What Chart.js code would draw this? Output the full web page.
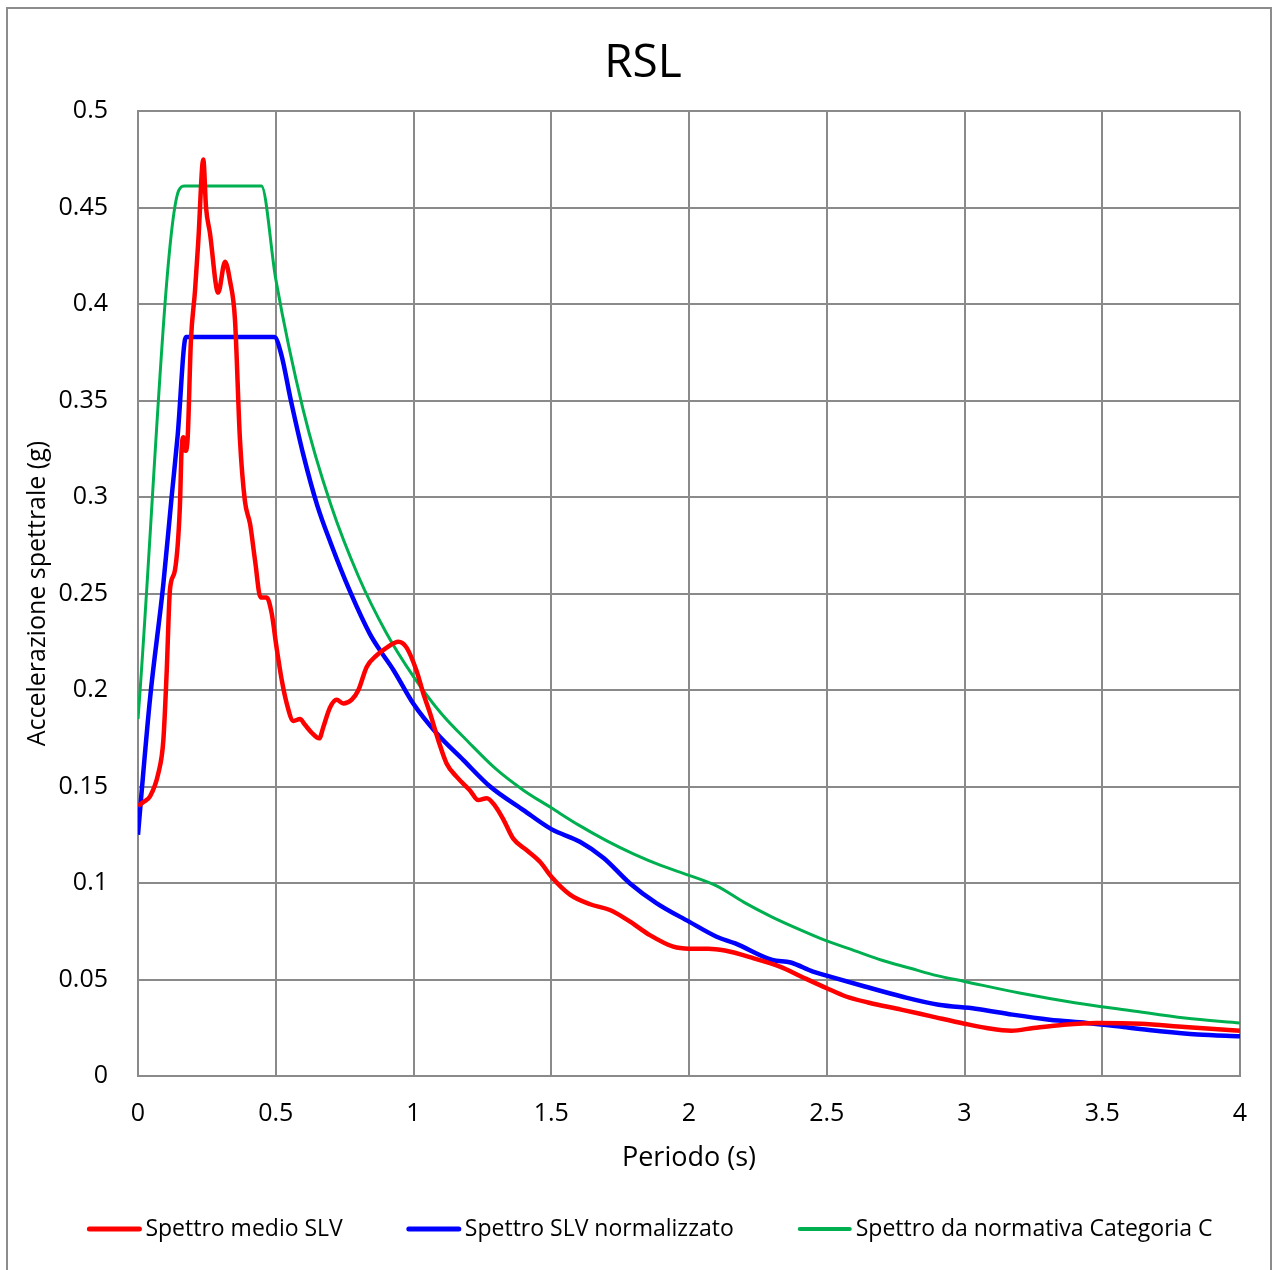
<!DOCTYPE html>
<html>
<head>
<meta charset="utf-8">
<script src="https://cdn.jsdelivr.net/npm/chart.js@4"></script>
<style>
  html, body { margin: 0; padding: 0; background: #fff; }
  canvas { display: block; }
</style>
</head>
<body>
<canvas id="rslChart" width="1273" height="1270"></canvas>
<script>
// Spettro medio SLV (periodo in s, accelerazione in g)
const medioT = [0, 0.02, 0.044, 0.074, 0.092, 0.104, 0.116, 0.134, 0.152, 0.158, 0.165, 0.172, 0.18, 0.192,
  0.207, 0.219, 0.237, 0.247, 0.261, 0.291, 0.316, 0.334, 0.352, 0.37, 0.388, 0.407, 0.425, 0.445, 0.467,
  0.485, 0.503, 0.522, 0.54, 0.564, 0.588, 0.606, 0.63, 0.658, 0.673, 0.697, 0.721, 0.745, 0.776, 0.8,
  0.83, 0.866, 0.903, 0.945, 0.975, 1.011, 1.036, 1.06, 1.09, 1.12, 1.157, 1.205, 1.235, 1.266, 1.296,
  1.326, 1.362, 1.411, 1.459, 1.502, 1.568, 1.641, 1.713, 1.786, 1.858, 1.943, 2.0, 2.07, 2.13, 2.235,
  2.33, 2.42, 2.5, 2.57, 2.65, 2.77, 2.88, 3.0, 3.08, 3.17, 3.25, 3.36, 3.48, 3.64, 3.8, 4.0]
const medioSa = [0.14, 0.142, 0.145, 0.157, 0.174, 0.209, 0.252, 0.262, 0.295, 0.324, 0.331, 0.324, 0.33, 0.381,
  0.407, 0.433, 0.475, 0.45, 0.437, 0.406, 0.422, 0.412, 0.392, 0.33, 0.298, 0.286, 0.267, 0.248, 0.248,
  0.24, 0.222, 0.205, 0.193, 0.184, 0.185, 0.182, 0.178, 0.175, 0.181, 0.191, 0.195, 0.193, 0.195, 0.2,
  0.212, 0.218, 0.222, 0.225, 0.222, 0.21, 0.198, 0.188, 0.174, 0.162, 0.155, 0.148, 0.143, 0.144, 0.14,
  0.133, 0.123, 0.117, 0.111, 0.103, 0.094, 0.089, 0.086, 0.08, 0.073, 0.067, 0.066, 0.066, 0.065, 0.061,
  0.0567, 0.0507, 0.0455, 0.0412, 0.0381, 0.0344, 0.0309, 0.0271, 0.0249, 0.0235, 0.0249, 0.0266, 0.0275, 0.0271, 0.0254, 0.0235]

// Spettro SLV normalizzato
const normT = [0, 0.01, 0.044, 0.092, 0.122, 0.144, 0.174, 0.495, 0.52, 0.555, 0.6, 0.65, 0.7, 0.77,
  0.842, 0.878, 0.927, 0.999, 1.084, 1.181, 1.278, 1.399, 1.502, 1.604, 1.69, 1.786, 1.883, 2.0, 2.1,
  2.168, 2.302, 2.369, 2.45, 2.503, 2.638, 2.772, 2.906, 3.04, 3.174, 3.309, 3.443, 3.577, 3.711, 3.846, 4.0]
const normSa = [0.125, 0.142, 0.196, 0.255, 0.3, 0.332, 0.383, 0.383, 0.374, 0.35, 0.322, 0.296, 0.276, 0.251,
  0.229, 0.2207, 0.2104, 0.193, 0.1776, 0.1637, 0.15, 0.1378, 0.1278, 0.1214, 0.113, 0.0998, 0.0895, 0.08, 0.0722,
  0.0687, 0.0601, 0.0588, 0.0541, 0.0519, 0.0464, 0.0412, 0.0369, 0.0349, 0.0318, 0.0292, 0.0275, 0.0254, 0.0232, 0.0215, 0.0206]

// Spettro da normativa Categoria C
const ntcT = [0, 0.148, 0.17, 0.448, 0.5, 0.6, 0.7, 0.8, 0.9, 1.0, 1.1, 1.2, 1.3, 1.4, 1.5, 1.6, 1.7, 1.8,
  1.9, 2.0, 2.1, 2.2, 2.3, 2.4, 2.5, 2.6, 2.7, 2.8, 2.9, 3.0, 3.2, 3.4, 3.6, 3.8, 4.0]
const ntcSa = [0.185, 0.459, 0.4613, 0.4613, 0.413, 0.345, 0.296, 0.259, 0.23, 0.207, 0.188, 0.173, 0.159, 0.148,
  0.139, 0.13, 0.122, 0.115, 0.109, 0.104, 0.0985, 0.09, 0.0825, 0.076, 0.07, 0.065, 0.06, 0.056, 0.052,
  0.049, 0.043, 0.038, 0.034, 0.03, 0.0275]

const xTicks = [0, 0.5, 1, 1.5, 2, 2.5, 3, 3.5, 4]
const yTicks = [0, 0.05, 0.1, 0.15, 0.2, 0.25, 0.3, 0.35, 0.4, 0.45, 0.5]

const FONT = "'Open Sans', 'DejaVu Sans', sans-serif"
const GRID = '#8a8a8a'

function toPoints(ts, vals) {
  return ts.map((t, i) => ({ x: t, y: vals[i] }))
}

// white page with the thin grey frame around the whole chart
const frame = {
  id: 'frame',
  beforeDraw(chart) {
    const c = chart.ctx
    c.save()
    c.fillStyle = '#fff'
    c.fillRect(0, 0, chart.width, chart.height)
    c.strokeStyle = '#8c8c8c'
    c.lineWidth = 2
    c.strokeRect(7, 8, 1264, 1280)
    c.restore()
  },
  afterLayout(chart) {
    // title sits a bit right of the canvas centre
    chart.titleBlock.left += 23
    chart.titleBlock.right += 23
  }
}

// legend row under the axis title: short line + label, wide gaps between entries
const lineLegend = {
  id: 'lineLegend',
  afterDraw(chart) {
    const c = chart.ctx
    const lineLen = 54, textGap = 4, itemGap = 64, y = 1229
    c.save()
    c.font = '23px ' + FONT
    c.textBaseline = 'middle'
    const items = chart.data.datasets.map(ds => ({
      text: ds.label, color: ds.borderColor, width: ds.borderWidth >= 4 ? 5 : 4,
      textW: c.measureText(ds.label).width
    }))
    const total = items.reduce((s, it) => s + lineLen + textGap + it.textW, 0) + itemGap * (items.length - 1)
    let x = 650 - total / 2
    items.forEach(it => {
      c.strokeStyle = it.color
      c.lineWidth = it.width
      c.lineCap = 'round'
      c.beginPath()
      c.moveTo(x + 2, y)
      c.lineTo(x + lineLen - 2, y)
      c.stroke()
      c.fillStyle = '#000'
      c.fillText(it.text, x + lineLen + textGap, y)
      x += lineLen + textGap + it.textW + itemGap
    })
    c.restore()
  }
}

const ctx = document.getElementById('rslChart').getContext('2d')
const rslChart = new Chart(ctx, {
  type: 'line',
  data: {
    datasets: [
      {
        label: 'Spettro medio SLV',
        data: toPoints(medioT, medioSa),
        borderColor: '#ff0000',
        backgroundColor: '#ff0000',
        borderWidth: 4.5,
        pointRadius: 0,
        cubicInterpolationMode: 'monotone'
      },
      {
        label: 'Spettro SLV normalizzato',
        data: toPoints(normT, normSa),
        borderColor: '#0000ff',
        backgroundColor: '#0000ff',
        borderWidth: 4.5,
        pointRadius: 0,
        cubicInterpolationMode: 'monotone'
      },
      {
        label: 'Spettro da normativa Categoria C',
        data: toPoints(ntcT, ntcSa),
        borderColor: '#00b050',
        backgroundColor: '#00b050',
        borderWidth: 3,
        pointRadius: 0,
        cubicInterpolationMode: 'monotone'
      }
    ]
  },
  options: {
    responsive: false,
    animation: false,
    layout: { padding: { left: 0, right: 33, top: 0, bottom: 63 } },
    plugins: {
      title: {
        display: true,
        text: 'RSL',
        color: '#000',
        font: { family: FONT, size: 46, weight: 'normal' },
        padding: { top: 36, bottom: 20 }
      },
      legend: { display: false },
      tooltip: { enabled: false }
    },
    scales: {
      x: {
        type: 'linear',
        min: 0,
        max: 4,
        afterBuildTicks: s => { s.ticks = xTicks.map(v => ({ value: v })) },
        afterFit: s => { s.height = 131 },
        ticks: {
          color: '#000',
          padding: 23,
          maxRotation: 0,
          font: { family: FONT, size: 25 },
          callback: v => String(v)
        },
        grid: { color: GRID, lineWidth: 2, drawTicks: false },
        border: { color: GRID, width: 2 },
        title: {
          display: true,
          text: 'Periodo (s)',
          color: '#000',
          font: { family: FONT, size: 27 },
          padding: { top: 32, bottom: 32 }
        }
      },
      y: {
        min: 0,
        max: 0.5,
        afterBuildTicks: s => { s.ticks = yTicks.map(v => ({ value: v })) },
        afterFit: s => { s.width = 138 },
        ticks: {
          color: '#000',
          padding: 30,
          font: { family: FONT, size: 25 },
          callback: v => String(+v.toFixed(2))
        },
        grid: { color: GRID, lineWidth: 2, drawTicks: false },
        border: { color: GRID, width: 2 },
        title: {
          display: true,
          text: 'Accelerazione spettrale (g)',
          color: '#000',
          font: { family: FONT, size: 25 },
          padding: { top: 23, bottom: 23 }
        }
      }
    }
  },
  plugins: [frame, lineLegend]
})
</script>
</body>
</html>
